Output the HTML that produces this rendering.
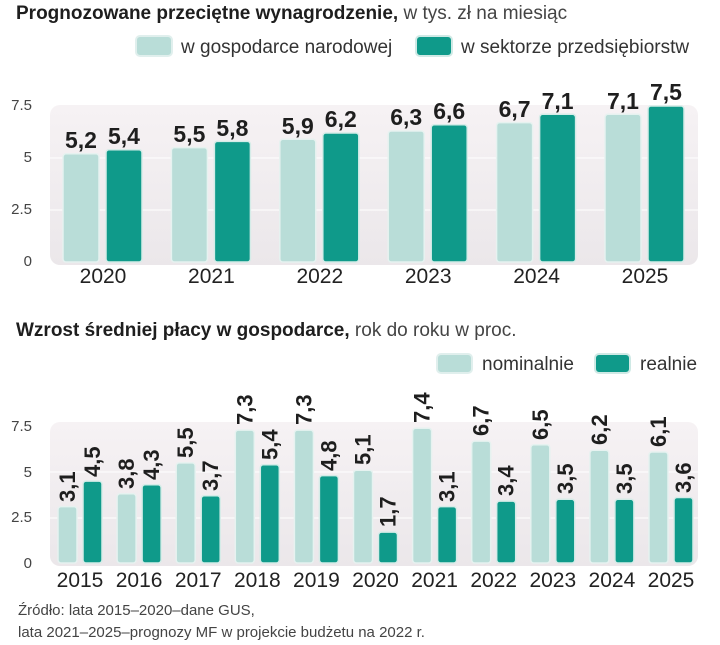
<!DOCTYPE html>
<html><head><meta charset="utf-8"><style>
body{margin:0;background:#fff;}
svg text{font-family:"Liberation Sans",sans-serif;}
</style></head><body>
<svg width="720" height="640" viewBox="0 0 720 640" xmlns="http://www.w3.org/2000/svg">
<defs>
<linearGradient id="bg" x1="0" y1="0" x2="0" y2="1"><stop offset="0" stop-color="#f6f2f4"/><stop offset="1" stop-color="#ebe7ea"/></linearGradient>
</defs>
<text x="16" y="19" font-size="19" fill="#1e1e1e"><tspan font-weight="bold">Prognozowane przeciętne wynagrodzenie,</tspan><tspan fill="#444"> w tys. zł na miesiąc</tspan></text>
<rect x="136" y="36" width="36" height="20" rx="4" fill="#b9ddd8" stroke="#e0efed" stroke-width="2"/>
<text x="181" y="53" font-size="19" fill="#333">w gospodarce narodowej</text>
<rect x="416" y="36" width="36" height="20" rx="4" fill="#0f9a8a" stroke="#cfe9e5" stroke-width="2"/>
<text x="461" y="53" font-size="19" fill="#333">w sektorze przedsiębiorstw</text>
<rect x="50" y="105" width="648" height="160" rx="10" fill="url(#bg)"/>
<line x1="50" y1="158" x2="698" y2="158" stroke="#fff"/>
<line x1="50" y1="210" x2="698" y2="210" stroke="#fff"/>
<g font-size="15" fill="#444" text-anchor="end">
<text x="32" y="110">7.5</text><text x="32" y="162">5</text><text x="32" y="214">2.5</text><text x="32" y="266">0</text></g>
<text x="16" y="336" font-size="19" fill="#1e1e1e"><tspan font-weight="bold">Wzrost średniej płacy w gospodarce,</tspan><tspan fill="#444"> rok do roku w proc.</tspan></text>
<rect x="437" y="354" width="35" height="19" rx="4" fill="#b9ddd8" stroke="#e0efed" stroke-width="2"/>
<text x="482" y="370" font-size="19" fill="#333">nominalnie</text>
<rect x="595" y="354" width="35" height="19" rx="4" fill="#0f9a8a" stroke="#cfe9e5" stroke-width="2"/>
<text x="640" y="370" font-size="19" fill="#333">realnie</text>
<rect x="50" y="422" width="648" height="144" rx="10" fill="url(#bg)"/>
<line x1="50" y1="472" x2="698" y2="472" stroke="#fff"/>
<line x1="50" y1="518" x2="698" y2="518" stroke="#fff"/>
<g font-size="15" fill="#444" text-anchor="end">
<text x="32" y="431">7.5</text><text x="32" y="477">5</text><text x="32" y="522">2.5</text><text x="32" y="568">0</text></g>
<text x="18" y="615" font-size="15" fill="#444">Źródło: lata 2015–2020–dane GUS,</text>
<text x="18" y="637" font-size="15" fill="#444">lata 2021–2025–prognozy MF w projekcie budżetu na 2022 r.</text>

<g font-weight="bold" font-size="23" fill="#1e1e1e" text-anchor="middle">
<rect x="63" y="153.8" width="36" height="108.2" rx="3" fill="#b9ddd8" stroke="#e6f2f0" stroke-width="1.5"/><text x="81" y="148">5,2</text>
<rect x="106" y="149.7" width="36" height="112.3" rx="3" fill="#0f9a8a" stroke="#d5ece8" stroke-width="1.5"/><text x="124" y="144">5,4</text>
<rect x="171.4" y="147.6" width="36" height="114.4" rx="3" fill="#b9ddd8" stroke="#e6f2f0" stroke-width="1.5"/><text x="189.4" y="142">5,5</text>
<rect x="214.4" y="141.4" width="36" height="120.6" rx="3" fill="#0f9a8a" stroke="#d5ece8" stroke-width="1.5"/><text x="232.4" y="136">5,8</text>
<rect x="279.8" y="139.3" width="36" height="122.7" rx="3" fill="#b9ddd8" stroke="#e6f2f0" stroke-width="1.5"/><text x="297.8" y="134">5,9</text>
<rect x="322.8" y="133.0" width="36" height="129.0" rx="3" fill="#0f9a8a" stroke="#d5ece8" stroke-width="1.5"/><text x="340.8" y="127">6,2</text>
<rect x="388.2" y="131.0" width="36" height="131.0" rx="3" fill="#b9ddd8" stroke="#e6f2f0" stroke-width="1.5"/><text x="406.2" y="125">6,3</text>
<rect x="431.2" y="124.7" width="36" height="137.3" rx="3" fill="#0f9a8a" stroke="#d5ece8" stroke-width="1.5"/><text x="449.2" y="119">6,6</text>
<rect x="496.6" y="122.6" width="36" height="139.4" rx="3" fill="#b9ddd8" stroke="#e6f2f0" stroke-width="1.5"/><text x="514.6" y="117">6,7</text>
<rect x="539.6" y="114.3" width="36" height="147.7" rx="3" fill="#0f9a8a" stroke="#d5ece8" stroke-width="1.5"/><text x="557.6" y="109">7,1</text>
<rect x="605" y="114.3" width="36" height="147.7" rx="3" fill="#b9ddd8" stroke="#e6f2f0" stroke-width="1.5"/><text x="623" y="109">7,1</text>
<rect x="648" y="106.0" width="36" height="156.0" rx="3" fill="#0f9a8a" stroke="#d5ece8" stroke-width="1.5"/><text x="666" y="100">7,5</text>
</g>
<g font-size="21" fill="#222" text-anchor="middle">
<text x="103" y="283">2020</text><text x="211.4" y="283">2021</text><text x="319.8" y="283">2022</text><text x="428.2" y="283">2023</text><text x="536.6" y="283">2024</text><text x="645" y="283">2025</text>
</g>

<g font-weight="bold" font-size="22" fill="#1e1e1e">
<rect x="58" y="506.6" width="19" height="56.4" rx="3" fill="#b9ddd8" stroke="#e6f2f0" stroke-width="1.5"/><text transform="translate(75,502) rotate(-90)">3,1</text>
<rect x="83" y="481.1" width="19" height="81.9" rx="3" fill="#0f9a8a" stroke="#d5ece8" stroke-width="1.5"/><text transform="translate(100,477) rotate(-90)">4,5</text>
<rect x="117.1" y="493.8" width="19" height="69.2" rx="3" fill="#b9ddd8" stroke="#e6f2f0" stroke-width="1.5"/><text transform="translate(134.1,489) rotate(-90)">3,8</text>
<rect x="142.1" y="484.7" width="19" height="78.3" rx="3" fill="#0f9a8a" stroke="#d5ece8" stroke-width="1.5"/><text transform="translate(159.1,480) rotate(-90)">4,3</text>
<rect x="176.2" y="462.9" width="19" height="100.1" rx="3" fill="#b9ddd8" stroke="#e6f2f0" stroke-width="1.5"/><text transform="translate(193.2,458) rotate(-90)">5,5</text>
<rect x="201.2" y="495.7" width="19" height="67.3" rx="3" fill="#0f9a8a" stroke="#d5ece8" stroke-width="1.5"/><text transform="translate(218.2,491) rotate(-90)">3,7</text>
<rect x="235.3" y="430.1" width="19" height="132.9" rx="3" fill="#b9ddd8" stroke="#e6f2f0" stroke-width="1.5"/><text transform="translate(252.3,425) rotate(-90)">7,3</text>
<rect x="260.3" y="464.7" width="19" height="98.3" rx="3" fill="#0f9a8a" stroke="#d5ece8" stroke-width="1.5"/><text transform="translate(277.3,460) rotate(-90)">5,4</text>
<rect x="294.4" y="430.1" width="19" height="132.9" rx="3" fill="#b9ddd8" stroke="#e6f2f0" stroke-width="1.5"/><text transform="translate(311.4,425) rotate(-90)">7,3</text>
<rect x="319.4" y="475.6" width="19" height="87.4" rx="3" fill="#0f9a8a" stroke="#d5ece8" stroke-width="1.5"/><text transform="translate(336.4,471) rotate(-90)">4,8</text>
<rect x="353.5" y="470.2" width="19" height="92.8" rx="3" fill="#b9ddd8" stroke="#e6f2f0" stroke-width="1.5"/><text transform="translate(370.5,465) rotate(-90)">5,1</text>
<rect x="378.5" y="532.1" width="19" height="30.9" rx="3" fill="#0f9a8a" stroke="#d5ece8" stroke-width="1.5"/><text transform="translate(395.5,527) rotate(-90)">1,7</text>
<rect x="412.6" y="428.3" width="19" height="134.7" rx="3" fill="#b9ddd8" stroke="#e6f2f0" stroke-width="1.5"/><text transform="translate(429.6,423) rotate(-90)">7,4</text>
<rect x="437.6" y="506.6" width="19" height="56.4" rx="3" fill="#0f9a8a" stroke="#d5ece8" stroke-width="1.5"/><text transform="translate(454.6,502) rotate(-90)">3,1</text>
<rect x="471.7" y="441.1" width="19" height="121.9" rx="3" fill="#b9ddd8" stroke="#e6f2f0" stroke-width="1.5"/><text transform="translate(488.7,436) rotate(-90)">6,7</text>
<rect x="496.7" y="501.1" width="19" height="61.9" rx="3" fill="#0f9a8a" stroke="#d5ece8" stroke-width="1.5"/><text transform="translate(513.7,496) rotate(-90)">3,4</text>
<rect x="530.8" y="444.7" width="19" height="118.3" rx="3" fill="#b9ddd8" stroke="#e6f2f0" stroke-width="1.5"/><text transform="translate(547.8,440) rotate(-90)">6,5</text>
<rect x="555.8" y="499.3" width="19" height="63.7" rx="3" fill="#0f9a8a" stroke="#d5ece8" stroke-width="1.5"/><text transform="translate(572.8,494) rotate(-90)">3,5</text>
<rect x="589.9" y="450.2" width="19" height="112.8" rx="3" fill="#b9ddd8" stroke="#e6f2f0" stroke-width="1.5"/><text transform="translate(606.9,445) rotate(-90)">6,2</text>
<rect x="614.9" y="499.3" width="19" height="63.7" rx="3" fill="#0f9a8a" stroke="#d5ece8" stroke-width="1.5"/><text transform="translate(631.9,494) rotate(-90)">3,5</text>
<rect x="649" y="452.0" width="19" height="111.0" rx="3" fill="#b9ddd8" stroke="#e6f2f0" stroke-width="1.5"/><text transform="translate(666,447) rotate(-90)">6,1</text>
<rect x="674" y="497.5" width="19" height="65.5" rx="3" fill="#0f9a8a" stroke="#d5ece8" stroke-width="1.5"/><text transform="translate(691,493) rotate(-90)">3,6</text>
</g>
<g font-size="21" fill="#222" text-anchor="middle">
<text x="80" y="587">2015</text><text x="139.1" y="587">2016</text><text x="198.2" y="587">2017</text><text x="257.3" y="587">2018</text><text x="316.4" y="587">2019</text><text x="375.5" y="587">2020</text><text x="434.6" y="587">2021</text><text x="493.7" y="587">2022</text><text x="552.8" y="587">2023</text><text x="611.9" y="587">2024</text><text x="671" y="587">2025</text>
</g>
</svg>
</body></html>
